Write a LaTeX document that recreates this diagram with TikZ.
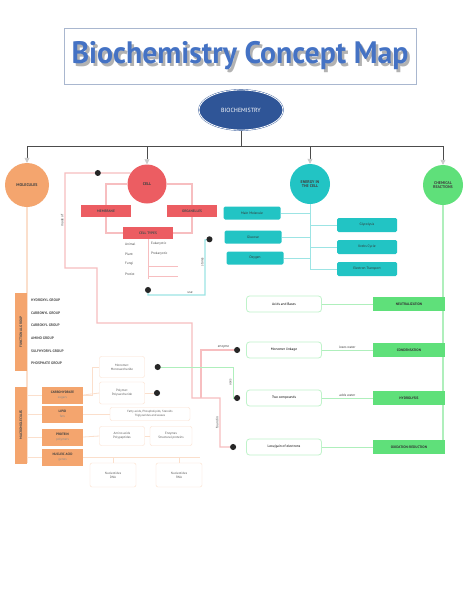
\documentclass[tikz,border=0pt]{standalone}
\usepackage{fontspec}
\setmainfont{PT Sans}
\usetikzlibrary{shapes.geometric, arrows.meta, positioning, backgrounds}

\definecolor{titleblue}{HTML}{4472C4}
\definecolor{titleframe}{HTML}{A9B7CF}
\definecolor{navy}{HTML}{2F5597}
\definecolor{peach}{HTML}{F4A56E}
\definecolor{cellred}{HTML}{EC5D62}
\definecolor{aqua}{HTML}{22C4C4}
\definecolor{leaf}{HTML}{5FE07A}

\begin{document}
\begin{tikzpicture}[x=1pt, y=-1pt,
    topic/.style={circle, minimum size=40pt, inner sep=0pt, align=center, font=\fontsize{4}{4.6}\selectfont\bfseries, text=black!75},
    cellbox/.style={rectangle, fill=cellred, minimum width=50pt, minimum height=12pt, inner sep=0pt, font=\fontsize{3.5}{4}\selectfont\bfseries, text=black!70},
    tealbox/.style={rectangle, rounded corners=1.5pt, fill=aqua, minimum width=57pt, minimum height=13pt, inner sep=0pt, font=\fontsize{3.5}{4}\selectfont, text=black!80},
    reacbox/.style={rectangle, fill=leaf, minimum width=72pt, minimum height=14pt, inner sep=0pt, font=\fontsize{3.5}{4}\selectfont\bfseries, text=black!80},
    ideabox/.style={rectangle, rounded corners=3pt, draw=leaf!40, thick, fill=white, minimum width=75pt, minimum height=16pt, inner sep=0pt, font=\fontsize{3.5}{4}\selectfont},
    groupbar/.style={rectangle, fill=peach, minimum height=12pt, inner sep=0pt, rotate=90, font=\fontsize{3.5}{4}\selectfont\bfseries, text=black!70},
    molbox/.style={rectangle, fill=peach, minimum width=41pt, minimum height=17pt, inner sep=0pt, align=center, font=\fontsize{3.3}{4.6}\selectfont\bfseries, text=black!75},
    notebox/.style={rectangle, rounded corners=2pt, draw=peach!35, fill=white, inner sep=1.5pt, align=center, font=\fontsize{3.2}{4.2}\selectfont, text=black!65},
    listtext/.style={inner sep=0pt, anchor=west, font=\fontsize{3.4}{4}\selectfont, text=black!70},
    linklabel/.style={inner sep=1pt, font=\fontsize{3.4}{4}\selectfont, text=black!75},
    dotmark/.style={circle, fill=black!85, minimum size=6pt, inner sep=0pt},
    pinkline/.style={draw=cellred!40, line width=1.3pt},
    tealline/.style={draw=aqua!45, line width=1.3pt},
    greenline/.style={draw=leaf!50, line width=1pt},
    peachline/.style={draw=peach!35, line width=0.8pt},
    tree/.style={draw=black!70, line width=0.7pt},
    drop/.style={tree, -{Triangle[length=5pt, width=5pt, fill=black!20, color=black!20]}},
    dot/.style={-{Circle[length=6pt, color=black!85, fill=black!85]}},
    dots/.style={{Circle[length=6pt, color=black!85, fill=black!85]}-{Circle[length=6pt, color=black!85, fill=black!85]}}
]
\useasboundingbox (0,0) rectangle (474,613);

% Title
\node[draw=titleframe, minimum width=352pt, minimum height=56pt] (frame) at (240,56) {};
\node[text=black!30, font=\fontsize{31}{31}\selectfont\bfseries] (titleshadow) at (242.5,58.5) {\scalebox{0.96}[1]{Biochemistry Concept Map}};
\node[text=titleblue, font=\fontsize{31}{31}\selectfont\bfseries] (title) at (240,56) {\scalebox{0.96}[1]{Biochemistry Concept Map}};

% Nodes
\node[ellipse, fill=navy, draw=navy, double=white, double distance=0.8pt, minimum width=84pt, minimum height=40pt, text=white, font=\fontsize{6}{6}\selectfont] (bio) at (241,110) {BIOCHEMISTRY};

\node[topic, fill=peach, minimum size=44pt] (molec) at (27,185) {MOLECULES};
\node[topic, fill=cellred, minimum size=39pt] (cell) at (147,184) {CELL};
\node[topic, fill=aqua] (energy) at (310,184) {ENERGY IN\\THE CELL};
\node[topic, fill=leaf] (react) at (443,185) {CHEMICAL\\REACTIONS};

% cell
\node[cellbox] (memb) at (106,211) {MEMBRANE};
\node[cellbox] (organ) at (192,211) {ORGANELLES};
\node[cellbox] (types) at (148,233) {CELL TYPES};
\node[listtext] (animal) at (125,244) {Animal};
\node[listtext] (eukar) at (151,244) {Eukaryotic};
\node[listtext] (plant) at (125,254) {Plant};
\node[listtext] (proka) at (151,254) {Prokaryotic};
\node[listtext] (fungi) at (125,264) {Fungi};
\node[listtext] (protist) at (125,274) {Protist};
\coordinate (listend) at (148,287);

% energy
\node[tealbox] (atp) at (252,213) {Main Molecule};
\node[tealbox] (gluc) at (253,237) {Glucose};
\node[tealbox] (oxy) at (255,258) {Oxygen};
\node[tealbox, minimum width=60pt, minimum height=14pt] (glyc) at (367,225) {Glycolysis};
\node[tealbox, minimum width=60pt, minimum height=14pt] (krebs) at (367,247) {Krebs Cycle};
\node[tealbox, minimum width=60pt, minimum height=14pt] (chain) at (367,269) {Electron Transport};

% reactions
\node[ideabox] (acid) at (284,304) {Acids and Bases};
\node[ideabox] (mono) at (284,350) {Monomer linkage};
\node[ideabox] (two) at (284,398) {Two compounds};
\node[ideabox] (loss) at (284,447) {Loss/gain of electrons};
\node[reacbox] (neut) at (409,304) {NEUTRALIZATION};
\node[reacbox] (cond) at (409,350) {CONDENSATION};
\node[reacbox] (hydro) at (409,398) {HYDROLYSIS};
\node[reacbox] (oxred) at (409,447) {OXIDATION-REDUCTION};

% molecules
\node[groupbar, minimum width=78pt] (fgroup) at (21,332) {FUNCTIONAL GROUP};
\node[groupbar, minimum width=77pt] (bmol) at (21,425) {MACROMOLECULES};
\node[listtext, font=\fontsize{3.6}{4}\selectfont\bfseries] (hydroxyl) at (31,300) {HYDROXYL GROUP};
\node[listtext, font=\fontsize{3.6}{4}\selectfont\bfseries] (carbonyl) at (31,313) {CARBONYL GROUP};
\node[listtext, font=\fontsize{3.6}{4}\selectfont\bfseries] (carboxyl) at (31,325) {CARBOXYL GROUP};
\node[listtext, font=\fontsize{3.6}{4}\selectfont\bfseries] (amino) at (31,338) {AMINO GROUP};
\node[listtext, font=\fontsize{3.6}{4}\selectfont\bfseries] (sulf) at (31,351) {SULFHYDRYL GROUP};
\node[listtext, font=\fontsize{3.6}{4}\selectfont\bfseries] (phos) at (31,363) {PHOSPHATE GROUP};

\node[molbox] (carb) at (62.5,395) {CARBOHYDRATE\\{\color{black!45}\mdseries sugars}};
\node[molbox] (lipid) at (62.5,414) {LIPID\\{\color{black!45}\mdseries fats}};
\node[molbox] (prot) at (62.5,437) {PROTEIN\\{\color{black!45}\mdseries polymers}};
\node[molbox] (nucl) at (62.5,457) {NUCLEIC ACID\\{\color{black!45}\mdseries genes}};

\node[notebox, minimum width=45pt, minimum height=21pt] (boxA) at (122,367) {Monomer:\\Monosaccharide};
\node[notebox, minimum width=45pt, minimum height=22pt] (boxB) at (122,393) {Polymer:\\Polysaccharide};
\node[notebox, minimum width=80pt, minimum height=13pt, font=\fontsize{3}{3.6}\selectfont] (boxC) at (150,414) {Fatty acids, Phospholipids, Steroids\\Triglycerides and waxes};
\node[notebox, minimum width=45pt, minimum height=19pt] (boxD) at (122,436) {Amino acids\\Polypeptides};
\node[notebox, minimum width=42pt, minimum height=19pt] (boxE) at (171,436) {Enzymes\\Structural proteins};
\node[notebox, minimum width=46pt, minimum height=24pt] (boxF) at (113,475) {Nucleotides\\DNA};
\node[notebox, minimum width=46pt, minimum height=24pt] (boxG) at (179,475) {Nucleotides\\RNA};
\coordinate (bdot) at (160,393);

% Arrows
\begin{scope}[on background layer]
\fill[white] (0,0) rectangle (474,613);
\draw[tree] (bio) -- (241,146);
\draw[tree] (molec |- 0,146) -- (react |- 0,146);
\draw[drop] (molec |- 0,146) -- (molec);
\draw[drop] (cell |- 0,146) -- (cell);
\draw[drop] (energy |- 0,146) -- (energy);
\draw[drop] (react |- 0,146) -- (react);

\draw[pinkline] (cell.west) -| (memb) |- (types);
\draw[pinkline] (cell.east) -| (organ) |- (types);
\draw[pinkline, line width=0.8pt] (types.south) -- (148,279);
\draw[pinkline, line width=0.6pt] (148,266) -- (178,266);
\draw[pinkline, line width=0.6pt] (148,276) -- (178,276);

\draw[pinkline, dot, shorten >=10pt] (cell.146) -- node[dotmark] (celldot) {} (65,173)
    -- node[linklabel, rotate=90, anchor=south] (madeof) {made of} (65,268)
    -- (97,268) -- (97,323) -- (192,323) -- (192,398) -- (220,398)
    -- node[linklabel, rotate=90, anchor=south] (found) {found in} (220,447) -- (loss.west);
\draw[pinkline, dot, shorten >=6pt] (201,398) -- (201,350) -- node[linklabel, above] (enz) {enzyme} (mono.west);

\draw[tealline, dots, shorten >=12pt] (listend) |- (205,295)
    -- node[linklabel, rotate=90, anchor=south, pos=0.6] (stores) {stores} (205,240) -- (gluc.west);
\node[linklabel, above] (uselbl) at (190,295) {use};

\draw[tealline, line width=0.9pt] (energy) -- (energy |- chain);
\draw[tealline, line width=0.9pt] (atp) -- (atp -| energy);
\draw[tealline, line width=0.9pt] (gluc) -- (gluc -| energy);
\draw[tealline, line width=0.9pt] (oxy) -- (oxy -| energy);
\draw[tealline, line width=0.9pt] (energy |- glyc) -- (glyc);
\draw[tealline, line width=0.9pt] (energy |- krebs) -- (krebs);
\draw[tealline, line width=0.9pt] (energy |- chain) -- (chain);

\draw[greenline, line width=1.3pt] (react) -- (react |- oxred);
\draw[greenline] (acid) -- (neut);
\draw[greenline] (mono) -- node[linklabel, above] (loses) {loses water} (cond);
\draw[greenline] (two) -- node[linklabel, above] (adds) {adds water} (hydro);
\draw[greenline] (loss) -- (oxred);
\draw[greenline, dots, shorten <=10pt, shorten >=6pt] (boxA.east) -- (233,367)
    -- node[linklabel, rotate=90, anchor=south] (uses) {uses} (233,398) -- (two.west);

\draw[peachline, line width=1.2pt] (molec) -- (27,463);
\draw[peachline] (bmol.south |- carb) -- (carb);
\draw[peachline] (bmol.south |- lipid) -- (lipid);
\draw[peachline] (bmol.south |- prot) -- (prot);
\draw[peachline] (bmol.south |- nucl) -- (nucl);
\draw[peachline] (carb.east) -- (92,395) |- (boxA.west);
\draw[peachline] (carb.east) -- (boxB.west);
\draw[peachline] (lipid.east) -- (boxC.west);
\draw[peachline] (prot.east) -- (boxD.west);
\draw[peachline] (boxD) -- (boxE);
\draw[peachline] (nucl.east) -- (200,457);
\draw[peachline] (boxF |- nucl) -- (boxF);
\draw[peachline] (boxG |- nucl) -- (boxG);
\draw[peachline, dot] (boxB.east) -- (bdot);
\end{scope}

\end{tikzpicture}
\end{document}
